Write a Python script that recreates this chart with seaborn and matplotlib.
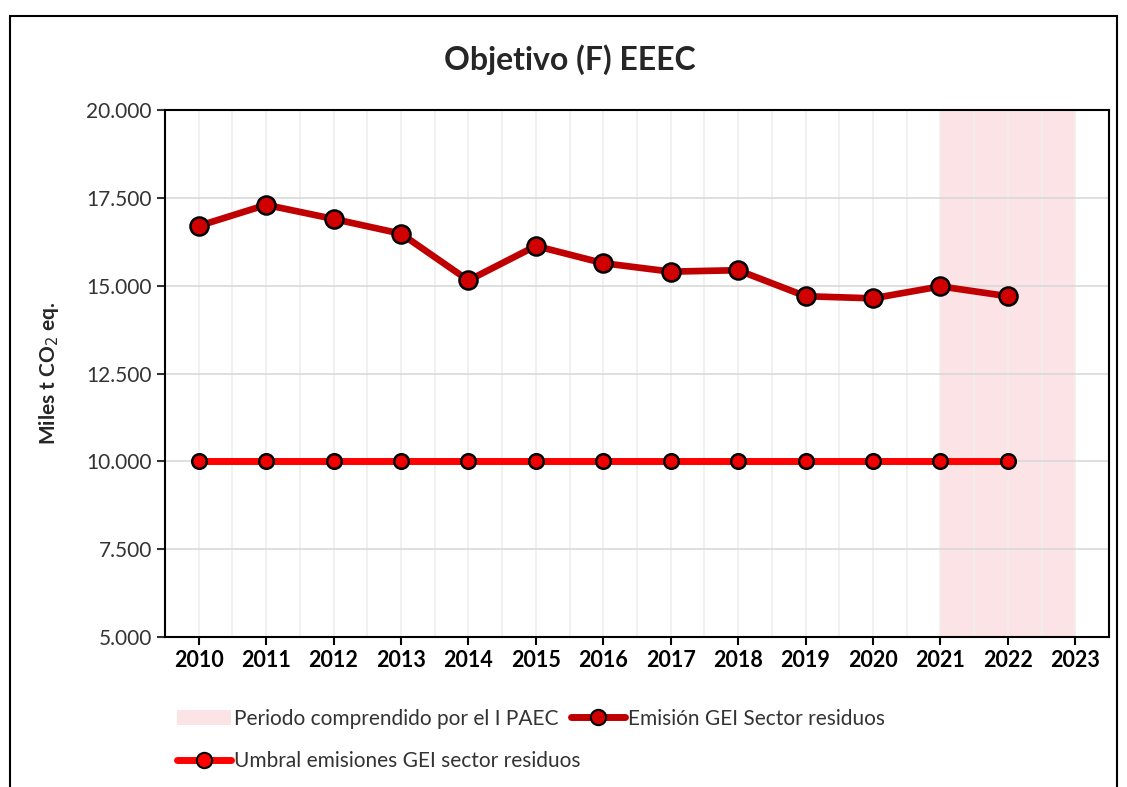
import matplotlib
matplotlib.use("Agg")
import matplotlib.pyplot as plt
import seaborn as sns
import pandas as pd
from matplotlib.patches import Rectangle, Patch
from matplotlib.lines import Line2D
from matplotlib.ticker import FuncFormatter, MultipleLocator

years = ["2010", "2011", "2012", "2013", "2014", "2015", "2016",
         "2017", "2018", "2019", "2020", "2021", "2022", "2023"]
emision = [16700, 17300, 16900, 16480, 15150, 16130, 15640,
           15400, 15440, 14700, 14640, 14980, 14700]
umbral = [10000] * 13
periodo = ["2021", "2023"]

title = "Objetivo (F) EEEC"
ylabel = "Miles t CO$_2$ eq."
lab_periodo = "Periodo comprendido por el I PAEC"
lab_emision = "Emisión GEI Sector residuos"
lab_umbral = "Umbral emisiones GEI sector residuos"

sns.set_theme(style="white")
plt.rcParams["font.family"] = ["Lato", "DejaVu Sans"]

fig = plt.figure(figsize=(11.27, 7.87), dpi=100)
ax = fig.add_axes([0.1464, 0.1906, 0.8376, 0.6696])

df_e = pd.DataFrame({"x": range(len(emision)), "y": emision})
df_u = pd.DataFrame({"x": range(len(umbral)), "y": umbral})

i0, i1 = years.index(periodo[0]), years.index(periodo[1])
ax.axvspan(i0, i1, color="#FCE4E6", zorder=0, lw=0)

sns.lineplot(data=df_u, x="x", y="y", ax=ax, color="#FF0000", lw=5,
             marker="o", markersize=10.5, markerfacecolor="#F00000",
             markeredgecolor="black", markeredgewidth=1.8, zorder=3)
sns.lineplot(data=df_e, x="x", y="y", ax=ax, color="#C00000", lw=4.8,
             marker="o", markersize=13, markerfacecolor="#D00000",
             markeredgecolor="black", markeredgewidth=1.8, zorder=4)

ax.set_xlim(-0.5, len(years) - 0.5)
ax.set_ylim(5000, 20000)
ax.set_xticks(range(len(years)))
ax.set_xticklabels(years, fontweight="bold", fontsize=15.5)
ax.xaxis.set_minor_locator(MultipleLocator(0.5))
ax.yaxis.set_major_locator(MultipleLocator(2500))
ax.yaxis.set_major_formatter(FuncFormatter(lambda v, p: f"{int(v):,}".replace(",", ".")))
ax.tick_params(axis="y", labelsize=15, colors="#333333", length=6, width=1.5, direction="out", left=True)
ax.tick_params(axis="x", which="major", length=6, width=1.5, direction="out", bottom=True, colors="black")
ax.tick_params(axis="x", which="minor", length=0)
for t in ax.get_yticklabels():
    t.set_color("#333333")

ax.grid(True, axis="y", color="#D9D9D9", lw=1.2, zorder=1)
ax.grid(True, axis="x", which="both", color="#EFEFEF", lw=1.2, zorder=1)
ax.set_axisbelow(True)

for s in ax.spines.values():
    s.set_visible(True)
    s.set_color("black")
    s.set_linewidth(1.5)

ax.set_xlabel("")
ax.set_ylabel(ylabel, fontweight="bold", fontsize=15, labelpad=18)
fig.text(0.506, 0.924, title, ha="center", va="center", fontsize=23, fontweight="bold")

h_periodo = Patch(facecolor="#FCE4E6", edgecolor="none", label=lab_periodo)
h_emision = Line2D([], [], color="#C00000", lw=5, marker="o", markersize=11,
                   markerfacecolor="#D00000", markeredgecolor="black", markeredgewidth=1.5, label=lab_emision)
h_umbral = Line2D([], [], color="#FF0000", lw=5, marker="o", markersize=11,
                  markerfacecolor="#FF0000", markeredgecolor="black", markeredgewidth=1.5, label=lab_umbral)
leg1 = fig.legend(handles=[h_periodo, h_emision], ncol=2, loc="center left",
                  bbox_to_anchor=(0.14, 0.087), frameon=False, fontsize=15,
                  handlelength=2.6, handletextpad=0.15, columnspacing=0.6)
leg2 = fig.legend(handles=[h_umbral], loc="center left",
                  bbox_to_anchor=(0.14, 0.033), frameon=False, fontsize=15,
                  handlelength=2.6, handletextpad=0.15)
for lg in (leg1, leg2):
    for t in lg.get_texts():
        t.set_color("#333333")

fig.patches.append(Rectangle((0.009, -0.05), 0.982, 1.03, transform=fig.transFigure,
                             fill=False, edgecolor="black", lw=1.5))

fig.savefig("out.png", dpi=100)
